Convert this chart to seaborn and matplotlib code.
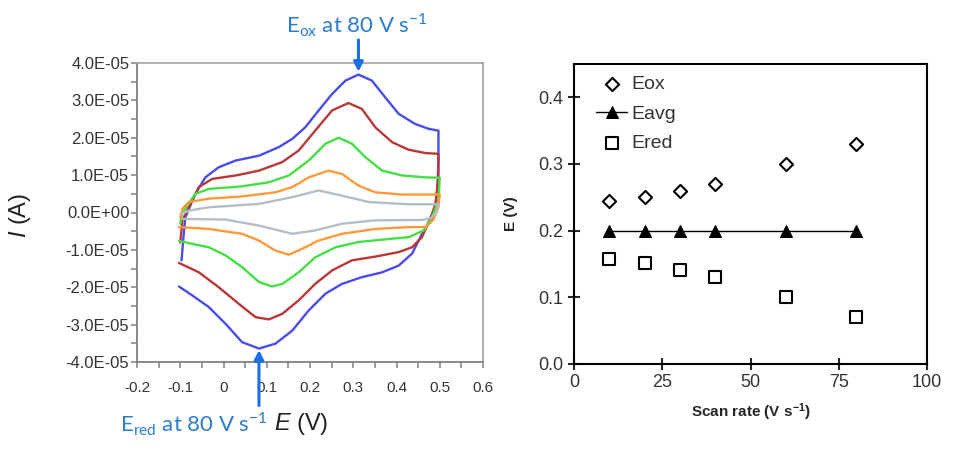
import matplotlib
matplotlib.use("Agg")
import matplotlib.pyplot as plt
from matplotlib.ticker import MultipleLocator, FuncFormatter
import seaborn as sns
import pandas as pd

# CV curves (E in V, I in units of 1E-05 A), one loop each
i_unit = 1e-5

e_blue = [-0.097, -0.092, -0.088, -0.065, -0.042, -0.011, 0.028, 0.082, 0.128, 0.159, 0.189, 0.220, 0.251,
          0.282, 0.312, 0.343, 0.374, 0.405, 0.443, 0.474, 0.497, 0.497, 0.494, 0.486, 0.474, 0.459, 0.436,
          0.405, 0.367, 0.320, 0.274, 0.236, 0.197, 0.159, 0.120, 0.082, 0.043, 0.005, -0.034, -0.072, -0.103]
i_blue = [-1.28, -0.57, -0.12, 0.50, 0.94, 1.21, 1.39, 1.52, 1.75, 1.97, 2.28, 2.73, 3.17,
          3.53, 3.69, 3.53, 3.08, 2.64, 2.37, 2.24, 2.19, 1.39, 0.50, -0.12, -0.30, -0.57, -1.10,
          -1.42, -1.60, -1.73, -1.91, -2.17, -2.62, -3.16, -3.51, -3.64, -3.47, -2.98, -2.53, -2.22, -1.98]

e_red = [-0.1, -0.095, -0.080, -0.057, -0.026, 0.028, 0.082, 0.136, 0.174, 0.212, 0.251, 0.289, 0.320,
         0.351, 0.390, 0.428, 0.467, 0.497, 0.497, 0.490, 0.482, 0.459, 0.436, 0.405, 0.351, 0.297,
         0.251, 0.212, 0.174, 0.136, 0.105, 0.074, 0.035, -0.011, -0.057, -0.103]
i_red = [-0.80, -0.21, 0.14, 0.68, 0.90, 0.99, 1.12, 1.35, 1.66, 2.19, 2.73, 2.93, 2.77,
         2.28, 1.88, 1.68, 1.59, 1.57, 0.94, 0.23, -0.04, -0.66, -0.93, -1.06, -1.18, -1.28,
         -1.55, -1.91, -2.35, -2.71, -2.86, -2.80, -2.44, -2.00, -1.60, -1.35]

e_green = [-0.1, -0.096, -0.080, -0.065, -0.034, 0.043, 0.105, 0.151, 0.197, 0.236, 0.266, 0.297, 0.328,
           0.367, 0.413, 0.467, 0.50, 0.497, 0.482, 0.463, 0.428, 0.390, 0.312, 0.259, 0.212, 0.174,
           0.136, 0.112, 0.082, 0.043, 0.005, -0.034, -0.072, -0.103]
i_green = [-0.30, -0.04, 0.25, 0.50, 0.63, 0.70, 0.81, 0.99, 1.39, 1.84, 2.00, 1.84, 1.48,
           1.12, 0.99, 0.94, 0.93, 0.32, -0.12, -0.48, -0.66, -0.70, -0.79, -0.93, -1.20, -1.60,
           -1.91, -1.98, -1.86, -1.46, -1.15, -0.93, -0.84, -0.76]

e_orange = [-0.1, -0.095, -0.080, -0.034, 0.043, 0.120, 0.159, 0.197, 0.243, 0.274, 0.312, 0.351, 0.413,
            0.50, 0.497, 0.485, 0.467, 0.428, 0.351, 0.274, 0.220, 0.182, 0.151, 0.120, 0.082, 0.043,
            -0.034, -0.103]
i_orange = [-0.15, 0.10, 0.28, 0.37, 0.43, 0.54, 0.68, 0.94, 1.12, 1.03, 0.72, 0.54, 0.48,
            0.48, 0.14, -0.20, -0.39, -0.39, -0.44, -0.57, -0.75, -0.97, -1.13, -1.02, -0.75, -0.57,
            -0.44, -0.39]

e_gray = [-0.1, -0.080, -0.034, 0.082, 0.159, 0.220, 0.274, 0.336, 0.428, 0.497, 0.492, 0.480, 0.459,
          0.351, 0.274, 0.212, 0.159, 0.082, 0.005, -0.096]
i_gray = [-0.05, 0.05, 0.14, 0.23, 0.41, 0.59, 0.45, 0.28, 0.22, 0.22, 0.0, -0.15, -0.20,
          -0.21, -0.30, -0.48, -0.57, -0.35, -0.19, -0.17]

# peak potentials vs scan rate
scan_rate = [10, 20, 30, 40, 60, 80]
e_ox = [0.245, 0.25, 0.26, 0.27, 0.30, 0.33]
e_avg = [0.20, 0.20, 0.20, 0.20, 0.20, 0.20]
e_red_pk = [0.157, 0.152, 0.141, 0.13, 0.10, 0.07]

curve_names = ["blue", "red", "green", "orange", "gray"]
curve_colors = ["#4b4be8", "#b83838", "#45de45", "#ff9a3c", "#b4bec4"]

sns.set_style("ticks")
plt.rcParams["font.family"] = ["Liberation Sans", "DejaVu Sans"]
plt.rcParams["mathtext.fontset"] = "custom"
plt.rcParams["mathtext.it"] = "Liberation Sans:italic"
plt.rcParams["mathtext.rm"] = "Liberation Sans"
plt.rcParams["lines.solid_joinstyle"] = "round"
plt.rcParams["lines.solid_capstyle"] = "round"

rows = []
for name, es, ivals in zip(curve_names, [e_blue, e_red, e_green, e_orange, e_gray],
                           [i_blue, i_red, i_green, i_orange, i_gray]):
    for e, i in zip(es, ivals):
        rows.append({"curve": name, "E": e, "I": i * i_unit})
cv = pd.DataFrame(rows)

fig = plt.figure(figsize=(9.58, 4.53), dpi=100)
ax1 = fig.add_axes([137 / 958, 1 - 362 / 453, 346 / 958, 299 / 453])
ax2 = fig.add_axes([574 / 958, 1 - 364 / 453, 353 / 958, 300 / 453])

# ---- left: cyclic voltammograms
sns.lineplot(data=cv, x="E", y="I", hue="curve", palette=dict(zip(curve_names, curve_colors)),
             sort=False, estimator=None, units="curve", lw=1.7, legend=False, ax=ax1)
ax1.set_xlim(-0.2, 0.6)
ax1.set_ylim(-4e-5, 4e-5)
ax1.xaxis.set_major_locator(MultipleLocator(0.1))
ax1.xaxis.set_minor_locator(MultipleLocator(0.05))
ax1.yaxis.set_major_locator(MultipleLocator(1e-5))
ax1.yaxis.set_minor_locator(MultipleLocator(0.5e-5))
ax1.yaxis.set_major_formatter(FuncFormatter(lambda v, p: "{:.1E}".format(0.0 if abs(v) < 1e-12 else v)))
ax1.xaxis.set_major_formatter(FuncFormatter(lambda v, p: "0" if abs(v) < 1e-9 else "{:g}".format(round(v, 2))))
for side in ["left", "bottom"]:
    ax1.spines[side].set_color("#808080")
    ax1.spines[side].set_linewidth(1.3)
for side in ["top", "right"]:
    ax1.spines[side].set_color("#a8a8a8")
    ax1.spines[side].set_linewidth(1.3)
ax1.tick_params(which="both", direction="out", length=4, width=1.1, color="#808080", labelcolor="#333333")
ax1.tick_params(axis="x", labelsize=11, pad=10)
ax1.tick_params(axis="y", labelsize=12, pad=1.5)
ax1.set_xlabel(r"$\mathit{E}$ (V)", fontsize=17, color="#222222")
ax1.set_ylabel(r"$\mathit{I}$ (A)", fontsize=17, color="#222222")
ax1.xaxis.set_label_coords(0.474, -0.165)
ax1.yaxis.set_label_coords(-0.30, 0.49)

# annotations for the 80 V/s peaks
blue_txt = "#2a7ccc"
blue_arrow = "#1a6ee6"
k_ox = i_blue.index(max(i_blue))
k_red = i_blue.index(min(i_blue))
ax1.annotate("", xy=(e_blue[k_ox], i_blue[k_ox] * i_unit), xytext=(0, 25), textcoords="offset points",
             arrowprops=dict(arrowstyle="-|>", color=blue_arrow, lw=2.2, mutation_scale=14, shrinkA=0, shrinkB=2))
ax1.annotate("", xy=(e_blue[k_red], i_blue[k_red] * i_unit), xytext=(0, -41), textcoords="offset points",
             arrowprops=dict(arrowstyle="-|>", color=blue_arrow, lw=2.2, mutation_scale=14, shrinkA=0, shrinkB=1),
             annotation_clip=False)
fig.text(357 / 958, 1 - 25 / 453, r"E$_{\mathregular{ox}}$ at 80 V s$^{\mathregular{-1}}$", color=blue_txt,
         fontsize=16, family=["Lato", "DejaVu Sans"], ha="center", va="center")
fig.text(120 / 958, 1 - 424 / 453, r"E$_{\mathregular{red}}$ at 80 V s$^{\mathregular{-1}}$", color=blue_txt,
         fontsize=16, family=["Lato", "DejaVu Sans"], ha="left", va="center")

# ---- right: peak potentials vs scan rate
sns.scatterplot(x=scan_rate, y=e_ox, marker="D", s=45, facecolor="white", edgecolor="black",
                linewidth=1.5, label="Eox", ax=ax2, zorder=3)
sns.lineplot(x=scan_rate, y=e_avg, marker="^", markersize=8.5, color="black", lw=1.0,
             markeredgecolor="black", label="Eavg", ax=ax2)
sns.scatterplot(x=scan_rate, y=e_red_pk, marker="s", s=85, facecolor="white", edgecolor="black",
                linewidth=1.5, label="Ered", ax=ax2, zorder=3)
ax2.set_xlim(0, 100)
ax2.set_ylim(0, 0.45)
ax2.set_xticks([0, 25, 50, 75, 100])
ax2.set_yticks([0.0, 0.1, 0.2, 0.3, 0.4])
ax2.yaxis.set_major_formatter(FuncFormatter(lambda v, p: "{:.1f}".format(v)))
for side in ax2.spines:
    ax2.spines[side].set_color("black")
    ax2.spines[side].set_linewidth(1.5)
ax2.tick_params(direction="inout", length=8, width=1.5, labelsize=13, labelcolor="#333333")
ax2.set_xlabel(r"Scan rate (V s$^{\mathregular{-1}}$)", fontsize=11, fontweight="bold")
ax2.set_ylabel("E (V)", fontsize=11, fontweight="bold")
ax2.xaxis.set_label_coords(0.5, -0.125)
ax2.yaxis.set_label_coords(-0.16, 0.5)
ax2.legend(loc="upper left", frameon=False, fontsize=14, handlelength=1.6, handletextpad=0.2,
           labelspacing=0.6, borderaxespad=0.2, bbox_to_anchor=(0.03, 1.0), labelcolor="#333333")

fig.savefig("out.png", dpi=100)
